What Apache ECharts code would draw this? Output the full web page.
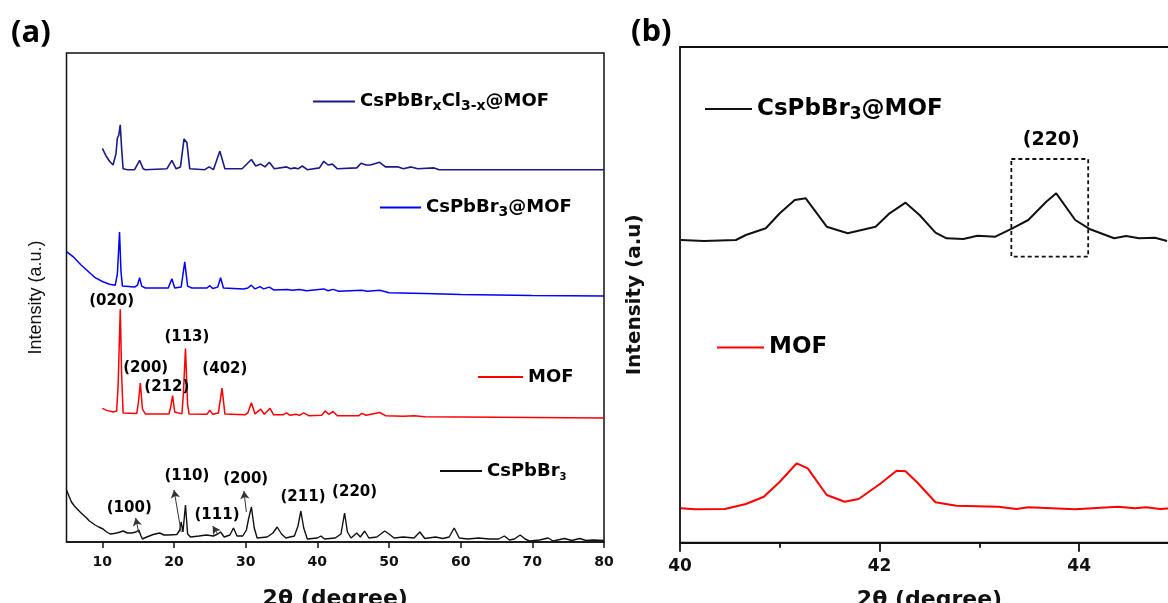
<!DOCTYPE html>
<html>
<head>
<meta charset="utf-8">
<script src="https://cdn.jsdelivr.net/npm/echarts@6/dist/echarts.min.js"></script>
<style>html,body{margin:0;padding:0;background:#fff}#c{width:1168px;height:603px}</style>
</head>
<body>
<div id="c"></div>
<script>
// ---------- Panel (a) data: [2theta, intensity offset (a.u.)] ----------
const aXTicks = [10, 20, 30, 40, 50, 60, 70, 80];
const aNavy = [[10.0,393.7],[10.5,386.3],[11.0,380.7],[11.5,377.0],[11.7,376.0],[11.9,388.1],[12.1,404.0],[12.3,406.8],[12.5,417.1],[12.7,392.8],[12.9,373.2],[13.5,372.3],[14.5,372.3],[15.2,381.6],[15.7,373.2],[16,372.3],[19.0,373.2],[19.7,381.6],[20.3,373.2],[20.9,375.1],[21.4,403.1],[21.8,399.3],[22.2,373.2],[24.3,372.3],[24.9,375.1],[25.5,372.3],[26.4,390.9],[27.1,373.2],[29.5,373.2],[30.8,382.5],[31.4,376.0],[32.1,377.9],[32.7,375.1],[33.3,379.7],[34,373.2],[35.7,375.1],[36.3,373.2],[36.8,374.1],[37.3,373.2],[37.9,376.0],[38.6,372.3],[40.3,374.1],[40.9,380.7],[41.5,377.0],[42.1,377.9],[42.8,373.2],[45.5,374.1],[46.1,378.8],[46.8,377.0],[47.4,377.0],[48.7,379.7],[49.5,375.1],[51.3,375.1],[52,373.2],[53.1,375.1],[54,373.2],[56.3,374.1],[57,372.3],[60,372.3],[70,372.3],[80,372.3]];
const aBlue = [[5,290.4],[6,284.8],[7,277.3],[8,270.8],[9,264.3],[10,260.5],[11,257.7],[11.8,256.8],[12.1,268.0],[12.4,310.0],[12.6,270.8],[12.8,255.9],[14.5,254.9],[14.9,256.8],[15.2,264.3],[15.5,255.9],[16,254.0],[19.2,254.0],[19.7,263.3],[20.1,254.0],[21.0,254.9],[21.5,280.1],[21.9,255.9],[22.5,254.0],[24.6,254.0],[25.0,256.3],[25.4,253.5],[26.1,254.9],[26.5,264.3],[26.9,254.0],[29.7,253.1],[30.3,254.0],[30.8,256.8],[31.3,253.1],[32.0,255.4],[32.5,253.1],[33.3,254.9],[33.9,252.1],[35.8,252.6],[36.5,251.7],[37.5,252.6],[38.5,251.2],[40.9,253.1],[41.5,251.2],[42.2,252.6],[43,250.7],[46.2,251.7],[47,250.7],[48.7,251.7],[50,249.3],[55,248.4],[60,247.5],[70,246.5],[80,246.1]];
const aRed = [[10.0,133.7],[10.5,131.9],[11.0,130.9],[11.5,130.0],[12.0,130.9],[12.2,156.1],[12.5,232.7],[12.7,165.5],[12.9,129.1],[14.8,128.6],[15.0,137.5],[15.3,158.9],[15.6,132.8],[16,128.1],[19.3,128.1],[19.5,133.7],[19.8,146.3],[20.1,130.0],[21.1,128.1],[21.3,146.8],[21.6,193.5],[21.9,137.5],[22.1,128.1],[24.6,127.7],[25.0,131.9],[25.4,127.7],[26.2,129.1],[26.7,153.8],[27.1,128.1],[29.9,127.2],[30.3,129.1],[30.8,139.3],[31.3,128.1],[32.1,132.8],[32.6,127.7],[33.4,133.7],[33.9,127.2],[35.2,127.2],[35.7,129.1],[36.2,126.7],[37.0,127.7],[37.5,126.7],[38.1,129.1],[38.8,126.3],[40.6,126.7],[41.1,130.9],[41.6,127.7],[42.2,130.5],[42.8,126.3],[45.8,126.3],[46.2,128.6],[46.8,126.7],[48.7,129.5],[49.5,126.3],[52,125.8],[53.5,126.3],[55,125.3],[60,124.9],[70,124.4],[80,123.9]];
const aBlack = [[5,52],[5.4,45],[5.7,40],[6.1,36],[6.5,33],[6.9,30],[7.2,28],[7.5,26],[7.8,24],[8.2,21],[8.6,19],[9.0,17],[9.5,15],[10.1,13],[10.6,10],[11.1,8],[11.6,8.5],[12.0,9],[12.5,10],[12.9,11],[13.5,9],[14.1,9],[14.7,10],[15.1,12],[15.4,6],[15.6,3],[16.2,5],[17.1,7.5],[18.0,9],[18.6,7],[19.2,7],[20.4,7.5],[20.8,12],[21.0,20],[21.25,10],[21.6,37],[21.9,8],[22.3,5],[23.5,6],[24.5,7],[25.5,6],[26.1,8],[26.5,10],[27.0,5],[27.8,7],[28.3,14],[28.8,6],[29.6,6],[30.1,12],[30.4,23],[30.8,35],[31.2,14],[31.6,4],[33.0,5],[33.8,9],[34.4,15],[35.0,8],[35.6,4],[36.8,6],[37.3,16],[37.7,31],[38.1,14],[38.6,3],[40.0,4],[40.5,6],[41.0,3],[42.5,4],[43.3,8],[43.8,29],[44.2,10],[44.7,4],[45.5,9],[46.0,5],[46.6,11],[47.2,4],[48.3,5],[49.4,11],[50.0,8],[50.7,4],[52.0,5],[53.5,4],[54.3,10],[55.0,3.5],[56.5,5],[57.5,3.5],[58.4,5],[59.1,14],[59.8,4],[61.0,3],[62.5,4],[64.0,3],[65.3,3],[66.1,6],[66.8,2],[67.5,3],[68.3,7],[69.0,3],[69.6,1],[71.0,2],[72.2,4],[72.9,1],[74.5,3.5],[75.5,1.5],[76.6,3.5],[77.5,1.5],[78.5,2],[80,1.5]];
// peak labels (a): [text, 2theta, intensity]
const aRedLabels = [['(020)',11.3,241],['(200)',16.05,174],['(212)',19.0,155],['(113)',21.8,205],['(402)',27.1,173]];
const aBlackLabels = [['(100)',13.76,34],['(110)',21.8,66],['(111)',26.0,27],['(200)',30.0,63],['(211)',38.0,45],['(220)',45.2,50]];
// arrows (a): [from 2theta, from I, to 2theta, to I]
const aArrows = [[15.1,9,14.65,24],[21.0,10,20.0,52],[26.1,8,25.4,16],[30.1,30,29.75,51]];

// ---------- Panel (b) data ----------
const bMajorTicks = [40, 42, 44];
const bMinorTicks = [41, 43];
const bBlack = [[40.01,302.7],[40.24,301.7],[40.56,302.7],[40.66,307.7],[40.86,314.4],[41.0,329.4],[41.15,342.7],[41.26,344.4],[41.47,316.0],[41.68,309.4],[41.96,316.0],[42.10,329.4],[42.26,340.0],[42.40,327.7],[42.56,310.0],[42.67,304.4],[42.84,303.7],[42.98,307.0],[43.16,306.0],[43.33,314.4],[43.49,322.7],[43.67,341.0],[43.77,349.4],[43.96,322.7],[44.11,313.4],[44.35,304.4],[44.47,306.7],[44.6,304.4],[44.76,305.0],[44.88,301.7]];
const bRed = [[40.01,34.4],[40.15,33.4],[40.45,33.7],[40.66,38.7],[40.84,46.0],[41.0,61.0],[41.17,79.4],[41.28,74.4],[41.47,47.7],[41.65,41.0],[41.79,43.7],[42.0,58.4],[42.17,72.0],[42.26,71.4],[42.38,60.0],[42.56,40.4],[42.77,37.0],[43.19,36.0],[43.37,33.7],[43.49,35.4],[43.96,33.4],[44.39,36.0],[44.56,34.4],[44.67,35.4],[44.81,33.7],[44.9,34.4]];
const bBox = [43.32, 44.09, 286, 383.7];
const bLabel = ['(220)', 43.72, 402.7];

const F = 'DejaVu Sans';
const names = {
  aNavy: '{m|CsPbBr}{s|x}{m|Cl}{s|3-x}{m|@MOF}',
  aBlue: '{m|CsPbBr}{s|3}{m|@MOF}',
  aRed: '{m|MOF}',
  aBlack: '{m|CsPbBr}{t|3}',
  bBlack: '{b|CsPbBr}{bs|3}{b|@MOF}',
  bRed: '{b|MOF}'
};
const rich = {
  m: {fontSize: 18, fontWeight: 'bold', fontFamily: F, color: '#000', lineHeight: 22},
  s: {fontSize: 14, fontWeight: 'bold', fontFamily: F, color: '#000', lineHeight: 14, padding: [9,0,0,0]},
  t: {fontSize: 10, fontWeight: 'bold', fontFamily: F, color: '#000', lineHeight: 10, padding: [12,0,0,0]},
  b: {fontSize: 23, fontWeight: 'bold', fontFamily: F, color: '#000', lineHeight: 28},
  bs: {fontSize: 17, fontWeight: 'bold', fontFamily: F, color: '#000', lineHeight: 17, padding: [11,0,0,0]}
};
function legend(name, left, top, w) {
  return {data: [name], left: left, top: top, padding: 0, itemGap: 0, itemWidth: w, itemHeight: 2,
    icon: 'rect', itemStyle: {borderWidth: 0}, selectedMode: false,
    formatter: n => names[n], textStyle: {rich: rich}};
}
function labelPts(list, size) {
  return {symbol: 'circle', symbolSize: 0, silent: true, animation: false,
    label: {show: true, position: 'inside', formatter: '{b}', color: '#000', fontFamily: F, fontWeight: 'bold', fontSize: size},
    data: list.map(l => ({name: l[0], coord: [l[1], l[2]]}))};
}

const chart = echarts.init(document.getElementById('c'), null, {renderer: 'canvas'});
chart.setOption({
  animation: false,
  backgroundColor: '#fff',
  title: [
    {text: '(a)', left: 6, top: 13, textStyle: {fontFamily: 'Open Sans', fontWeight: 'bold', fontSize: 31, color: '#000'}},
    {text: '(b)', left: 626, top: 12, textStyle: {fontFamily: 'Open Sans', fontWeight: 'bold', fontSize: 31, color: '#000'}}
  ],
  legend: [
    legend('aNavy', 313, 90, 42),
    legend('aBlue', 380, 196, 41),
    legend('aRed', 478, 368, 45),
    legend('aBlack', 440, 460, 42),
    legend('bBlack', 705, 95, 47),
    legend('bRed', 717, 336, 47)
  ],
  grid: [
    {left: 66.5, top: 53, right: 564, bottom: 61, show: true, borderColor: '#111', borderWidth: 1.5,
      containLabel: false, outerBoundsMode: 'none'},
    {left: 680, top: 47, right: -11, bottom: 60.3, show: true, borderColor: '#111', borderWidth: 1.8,
      containLabel: false, outerBoundsMode: 'none'}
  ],
  xAxis: [
    {gridIndex: 0, type: 'value', min: 5, max: 80,
      axisLine: {show: true, onZero: false, lineStyle: {color: '#111', width: 1.5}},
      axisTick: {show: true, length: 6, customValues: aXTicks, lineStyle: {color: '#111', width: 1.5}},
      axisLabel: {customValues: aXTicks, margin: 13, color: '#111', fontFamily: F, fontWeight: 'bold', fontSize: 14},
      splitLine: {show: false},
      name: '2θ (degree)', nameLocation: 'middle', nameGap: 46,
      nameTextStyle: {fontFamily: F, fontWeight: 'bold', fontSize: 22, color: '#111'}},
    {gridIndex: 1, type: 'value', min: 40, max: 45,
      axisLine: {show: true, onZero: false, lineStyle: {color: '#111', width: 1.8}},
      axisTick: {show: true, length: 9, customValues: bMajorTicks, lineStyle: {color: '#111', width: 1.8}},
      axisLabel: {customValues: bMajorTicks, margin: 15, color: '#111', fontFamily: F, fontWeight: 'bold', fontSize: 17},
      splitLine: {show: false},
      name: '2θ (degree)', nameLocation: 'middle', nameGap: 47,
      nameTextStyle: {fontFamily: F, fontWeight: 'bold', fontSize: 22, color: '#111'}},
    {gridIndex: 1, type: 'value', min: 40, max: 45, position: 'bottom',
      axisLine: {show: false},
      axisTick: {show: true, length: 5, customValues: bMinorTicks, lineStyle: {color: '#111', width: 1.8}},
      axisLabel: {show: false}, splitLine: {show: false}}
  ],
  yAxis: [
    {gridIndex: 0, type: 'value', min: 0, max: 489, axisLine: {show: false}, axisTick: {show: false},
      axisLabel: {show: false}, splitLine: {show: false},
      name: 'Intensity (a.u.)', nameLocation: 'middle', nameGap: 21,
      nameTextStyle: {fontFamily: 'Liberation Sans', fontSize: 18, color: '#111'}},
    {gridIndex: 1, type: 'value', min: 0, max: 495.7, axisLine: {show: false}, axisTick: {show: false},
      axisLabel: {show: false}, splitLine: {show: false},
      name: 'Intensity (a.u)', nameLocation: 'middle', nameGap: 35,
      nameTextStyle: {fontFamily: F, fontWeight: 'bold', fontSize: 20, color: '#111'}}
  ],
  series: [
    {name: 'aNavy', type: 'line', xAxisIndex: 0, yAxisIndex: 0, data: aNavy, showSymbol: false, symbol: 'none',
      lineStyle: {color: '#1a1a8a', width: 1.6}, itemStyle: {color: '#1a1a8a'}},
    {name: 'aBlue', type: 'line', xAxisIndex: 0, yAxisIndex: 0, data: aBlue, showSymbol: false, symbol: 'none',
      lineStyle: {color: '#0000ff', width: 1.5}, itemStyle: {color: '#0000ff'}},
    {name: 'aRed', type: 'line', xAxisIndex: 0, yAxisIndex: 0, data: aRed, showSymbol: false, symbol: 'none',
      lineStyle: {color: '#ff0000', width: 1.5}, itemStyle: {color: '#ff0000'},
      markPoint: labelPts(aRedLabels, 15)},
    {name: 'aBlack', type: 'line', xAxisIndex: 0, yAxisIndex: 0, data: aBlack, showSymbol: false, symbol: 'none',
      lineStyle: {color: '#111', width: 1.4}, itemStyle: {color: '#111'},
      markPoint: labelPts(aBlackLabels, 15),
      markLine: {silent: true, animation: false, symbol: ['none', 'arrow'], symbolSize: [7, 8],
        lineStyle: {color: '#333', width: 1, type: 'solid'}, label: {show: false},
        data: aArrows.map(a => [{coord: [a[0], a[1]]}, {coord: [a[2], a[3]]}])}},
    {name: 'bBlack', type: 'line', xAxisIndex: 1, yAxisIndex: 1, data: bBlack, showSymbol: false, symbol: 'none',
      lineStyle: {color: '#111', width: 2}, itemStyle: {color: '#111'},
      markPoint: labelPts([bLabel], 19),
      markArea: {silent: true, animation: false,
        itemStyle: {color: 'rgba(0,0,0,0)', borderColor: '#111', borderWidth: 1.8, borderType: [4, 3]},
        data: [[{coord: [bBox[0], bBox[3]]}, {coord: [bBox[1], bBox[2]]}]]}},
    {name: 'bRed', type: 'line', xAxisIndex: 1, yAxisIndex: 1, data: bRed, showSymbol: false, symbol: 'none',
      lineStyle: {color: '#ff0000', width: 2}, itemStyle: {color: '#ff0000'}}
  ]
});
</script>
</body>
</html>
